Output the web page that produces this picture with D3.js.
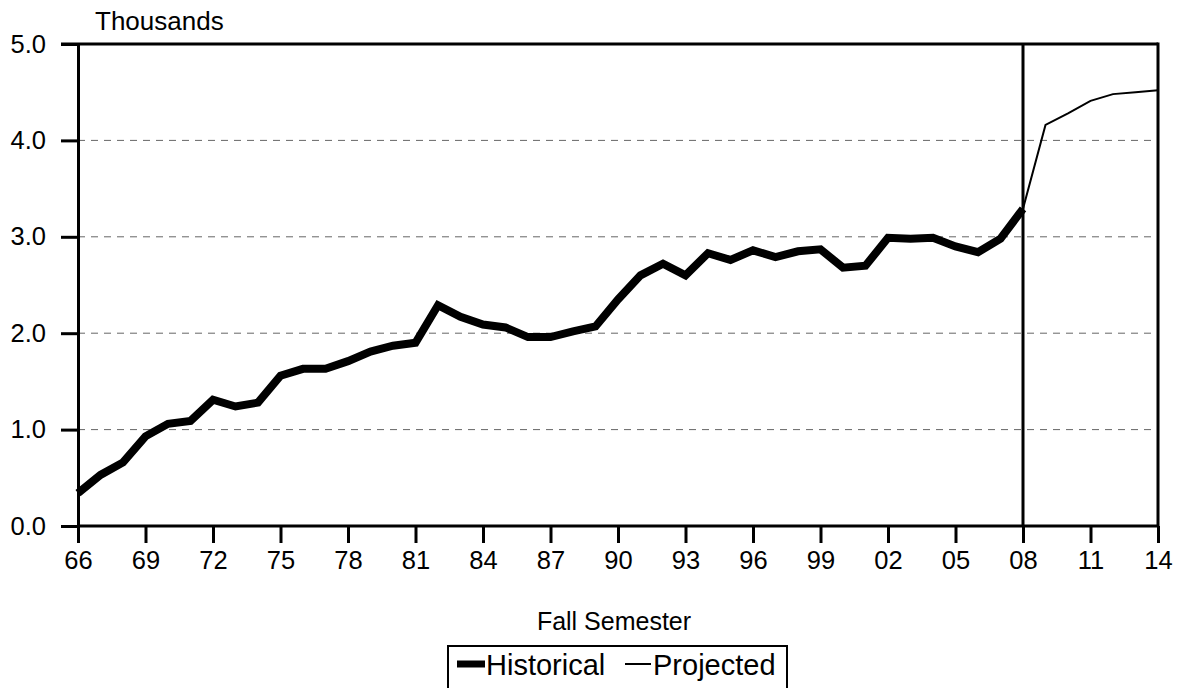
<!DOCTYPE html>
<html>
<head>
<meta charset="utf-8">
<script src="https://cdn.jsdelivr.net/npm/d3@7"></script>
<style>
  html, body { margin: 0; padding: 0; background: #fff; }
  svg { display: block; font-family: "Liberation Sans", Arial, sans-serif; }
</style>
</head>
<body>
<svg id="chart" width="1179" height="688"></svg>
<script>
const histYears = [1966,1967,1968,1969,1970,1971,1972,1973,1974,1975,1976,1977,1978,1979,1980,1981,1982,1983,1984,1985,1986,1987,1988,1989,1990,1991,1992,1993,1994,1995,1996,1997,1998,1999,2000,2001,2002,2003,2004,2005,2006,2007,2008];
const histValues = [0.34,0.53,0.66,0.93,1.06,1.09,1.31,1.24,1.28,1.56,1.63,1.63,1.71,1.81,1.87,1.90,2.29,2.17,2.09,2.06,1.96,1.96,2.02,2.07,2.35,2.60,2.72,2.60,2.83,2.76,2.86,2.79,2.85,2.87,2.68,2.70,2.99,2.98,2.99,2.90,2.84,2.98,3.29];
const projYears = [2008,2009,2010,2011,2012,2013,2014];
const projValues = [3.29,4.16,4.28,4.41,4.48,4.50,4.52];
const xTickYears = [1966,1969,1972,1975,1978,1981,1984,1987,1990,1993,1996,1999,2002,2005,2008,2011,2014];
const yTicks = [0,1,2,3,4,5];
const gridTicks = [1,2,3,4];
const dividerYear = 2008;
const yUnitLabel = "Thousands";
const xTitle = "Fall Semester";
const legendLabels = ["Historical","Projected"];

const svg = d3.select("#chart");
const L = 78, R = 1158, T = 44, B = 526;
const x = d3.scaleLinear().domain([1966, 2014]).range([L, R]);
const y = d3.scaleLinear().domain([0, 5]).range([B, T]);

// gridlines
svg.append("g").selectAll("line").data(gridTicks).join("line")
  .attr("x1", L).attr("x2", R)
  .attr("y1", d => y(d)).attr("y2", d => y(d))
  .attr("stroke", "#666").attr("stroke-width", 1)
  .attr("stroke-dasharray", "7,6");

// axes
const fontSize = 25.5;
const xAxis = svg.append("g").attr("transform", `translate(0,${B})`)
  .call(d3.axisBottom(x).tickValues(xTickYears).tickSize(17).tickSizeOuter(0).tickPadding(8)
    .tickFormat(d => String(d % 100).padStart(2, "0")));
const yAxis = svg.append("g").attr("transform", `translate(${L},0)`)
  .call(d3.axisLeft(y).tickValues(yTicks).tickSize(17).tickSizeOuter(0).tickPadding(15)
    .tickFormat(d3.format(".1f")));
[xAxis, yAxis].forEach(g => {
  g.select(".domain").attr("stroke", "#000").attr("stroke-width", 3);
  g.selectAll(".tick line").attr("stroke", "#000").attr("stroke-width", 3);
  g.selectAll(".tick text").attr("fill", "#000").attr("font-size", fontSize)
    .attr("font-family", "'Liberation Sans', Arial, sans-serif");
});
xAxis.select(".domain").attr("d", `M${L},0H${R}`);

// top and right frame
svg.append("line").attr("x1", L - 17).attr("x2", R).attr("y1", T).attr("y2", T)
  .attr("stroke", "#000").attr("stroke-width", 3);
svg.append("line").attr("x1", R).attr("x2", R).attr("y1", T - 1.5).attr("y2", B)
  .attr("stroke", "#000").attr("stroke-width", 3);

// divider
svg.append("line").attr("x1", x(dividerYear)).attr("x2", x(dividerYear))
  .attr("y1", T).attr("y2", B)
  .attr("stroke", "#000").attr("stroke-width", 3);

// lines
const line = d3.line().x(d => x(d[0])).y(d => y(d[1]));
svg.append("path").datum(histYears.map((yr, i) => [yr, histValues[i]]))
  .attr("d", line).attr("fill", "none").attr("stroke", "#000").attr("stroke-width", 8)
  .attr("stroke-linejoin", "miter");
svg.append("path").datum(projYears.map((yr, i) => [yr, projValues[i]]))
  .attr("d", line).attr("fill", "none").attr("stroke", "#000").attr("stroke-width", 2);

// labels
svg.append("text").attr("x", 95).attr("y", 30).attr("font-size", 26).text(yUnitLabel);
svg.append("text").attr("x", 614).attr("y", 630).attr("text-anchor", "middle")
  .attr("font-size", 25).text(xTitle);

// legend
const lg = svg.append("g");
lg.append("rect").attr("x", 448).attr("y", 646).attr("width", 339).attr("height", 46)
  .attr("fill", "#fff").attr("stroke", "#000").attr("stroke-width", 2);
lg.append("line").attr("x1", 457).attr("x2", 485).attr("y1", 664).attr("y2", 664)
  .attr("stroke", "#000").attr("stroke-width", 7);
lg.append("text").attr("x", 486).attr("y", 675).attr("font-size", 29).text(legendLabels[0]);
lg.append("line").attr("x1", 625).attr("x2", 651).attr("y1", 664).attr("y2", 664)
  .attr("stroke", "#000").attr("stroke-width", 2);
lg.append("text").attr("x", 653).attr("y", 675).attr("font-size", 29).text(legendLabels[1]);
</script>
</body>
</html>
